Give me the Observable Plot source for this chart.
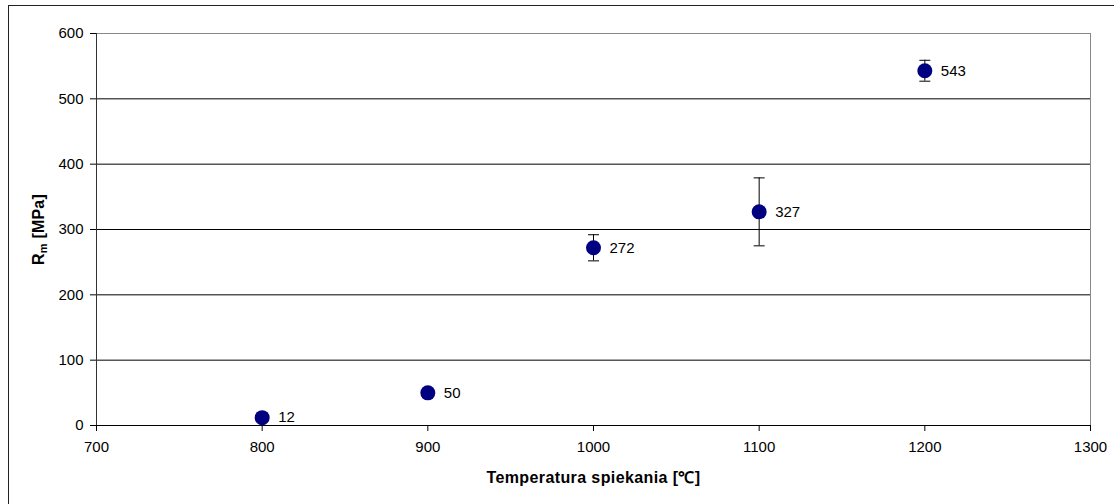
<!DOCTYPE html>
<html>
<head>
<meta charset="utf-8">
<script src="https://cdn.jsdelivr.net/npm/d3@7"></script>
<script src="https://cdn.jsdelivr.net/npm/@observablehq/plot@0.6"></script>
<style>
  html, body { margin: 0; padding: 0; background: #fff; }
  #wrap { position: relative; width: 1114px; height: 504px; overflow: hidden; }
  #border { position: absolute; left: 8px; top: 5px; width: 1200px; height: 600px;
            border-left: 1px solid #222; border-top: 1px solid #222; pointer-events: none; }
  #chart svg { display: block; }
</style>
</head>
<body>
<div id="wrap"><div id="chart"></div><div id="border"></div></div>
<script>
// Data
const temperatures = [800, 900, 1000, 1100, 1200];
const strengths = [12, 50, 272, 327, 543];
const errors = [0, 0, 20, 52, 16];
const xTicks = [700, 800, 900, 1000, 1100, 1200, 1300];
const yTicks = [0, 100, 200, 300, 400, 500, 600];
const gridValues = [100, 200, 300, 400, 500];

const data = temperatures.map((t, i) => ({ t, v: strengths[i], e: errors[i] }));
const withErr = data.filter(d => d.e > 0);

const capSymbol = {
  draw(context, size) {
    const w = 5.5;
    context.moveTo(-w, 0);
    context.lineTo(w, 0);
  }
};

const font = "'Liberation Sans', Arial, sans-serif";

const chart = Plot.plot({
  width: 1114,
  height: 504,
  marginLeft: 96,
  marginRight: 24,
  marginTop: 33,
  marginBottom: 79,
  style: { fontFamily: font, fontSize: "15px", color: "#000", background: "transparent" },
  x: { domain: [700, 1300], ticks: xTicks, label: null },
  y: { domain: [0, 600], ticks: yTicks, label: null },
  marks: [
    Plot.ruleY(gridValues, { stroke: "#000", strokeWidth: 1, strokeOpacity: 1 }),
    Plot.ruleY([600], { stroke: "#888", strokeWidth: 1 }),
    Plot.ruleX([1300], { stroke: "#888", strokeWidth: 1 }),
    Plot.ruleX([700], { stroke: "#333", strokeWidth: 1 }),
    Plot.ruleY([0], { stroke: "#000", strokeWidth: 1 }),
    Plot.axisX({ ticks: xTicks, tickSize: 6, tickPadding: 10, stroke: "#000", fontSize: 15, tickFormat: d => String(d), label: null }),
    Plot.axisY({ ticks: yTicks, tickSize: 6, tickPadding: 7, stroke: "#000", fontSize: 15, tickFormat: d => String(d), label: null }),
    Plot.ruleX(withErr, { x: "t", y1: d => d.v - d.e, y2: d => d.v + d.e, stroke: "#000", strokeWidth: 1 }),
    Plot.dot(withErr, { x: "t", y: d => d.v - d.e, symbol: capSymbol, stroke: "#000", strokeWidth: 1, fill: "none" }),
    Plot.dot(withErr, { x: "t", y: d => d.v + d.e, symbol: capSymbol, stroke: "#000", strokeWidth: 1, fill: "none" }),
    Plot.dot(data, { x: "t", y: "v", r: 7.5, fill: "#000080", stroke: "none" }),
    Plot.text(data, { x: "t", y: "v", text: d => String(d.v), dx: 16, textAnchor: "start", fontSize: 15, fill: "#000" }),
    Plot.text(["Temperatura spiekania [℃]"], { frameAnchor: "bottom", dy: 57, fontWeight: "bold", fontSize: 16, fill: "#000", className: "xlab" }),
    Plot.text(["R"], { frameAnchor: "left", textAnchor: "middle", dx: -58, dy: 0, rotate: -90, fontWeight: "bold", fontSize: 16, fill: "#000", className: "ylab" })
  ]
});

document.getElementById("chart").appendChild(chart);

const xl = chart.querySelector(".xlab");
if (xl) xl.setAttribute("letter-spacing", "0.4");

// add subscript "m" to the y axis title
const yl = chart.querySelector(".ylab text");
if (yl) {
  chart.querySelector(".ylab").setAttribute("letter-spacing", "0.2");
  yl.textContent = "";
  const ns = "http://www.w3.org/2000/svg";
  const r = document.createElementNS(ns, "tspan"); r.textContent = "R";
  const m = document.createElementNS(ns, "tspan"); m.textContent = "m"; m.setAttribute("font-size", "11"); m.setAttribute("dy", "3");
  const rest = document.createElementNS(ns, "tspan"); rest.textContent = " [MPa]"; rest.setAttribute("dy", "-3");
  yl.appendChild(r); yl.appendChild(m); yl.appendChild(rest);
}
</script>
</body>
</html>
